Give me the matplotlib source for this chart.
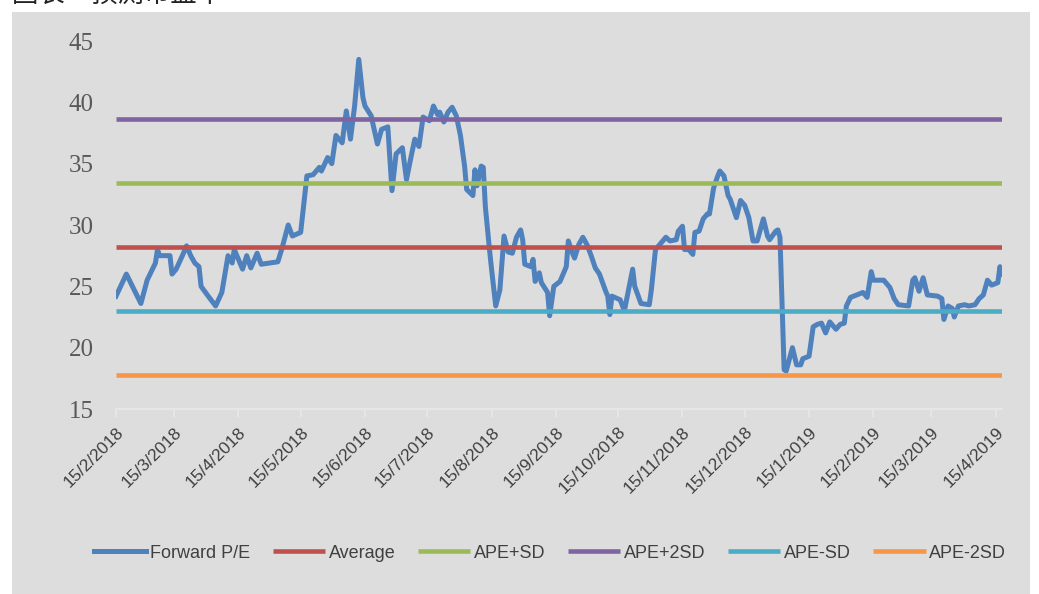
import matplotlib
matplotlib.use("Agg")
import matplotlib.pyplot as plt
import matplotlib.dates as mdates
from matplotlib.patches import Rectangle
import pandas as pd

# Forward P/E
dates = [
    "2018-02-15", "2018-02-20", "2018-02-27", "2018-03-02", "2018-03-06", "2018-03-07",
    "2018-03-08", "2018-03-13", "2018-03-14", "2018-03-16", "2018-03-19", "2018-03-21",
    "2018-03-23", "2018-03-25", "2018-03-27", "2018-03-28", "2018-03-31", "2018-04-04",
    "2018-04-07", "2018-04-10", "2018-04-12", "2018-04-13", "2018-04-17", "2018-04-19",
    "2018-04-21", "2018-04-24", "2018-04-26", "2018-05-04", "2018-05-06", "2018-05-09",
    "2018-05-11", "2018-05-15", "2018-05-18", "2018-05-21", "2018-05-24", "2018-05-25",
    "2018-05-28", "2018-05-30", "2018-06-01", "2018-06-04", "2018-06-06", "2018-06-08",
    "2018-06-10", "2018-06-12", "2018-06-14", "2018-06-15", "2018-06-18", "2018-06-19",
    "2018-06-21", "2018-06-23", "2018-06-26", "2018-06-28", "2018-06-30", "2018-07-03",
    "2018-07-05", "2018-07-07", "2018-07-09", "2018-07-11", "2018-07-13", "2018-07-16",
    "2018-07-18", "2018-07-20", "2018-07-21", "2018-07-23", "2018-07-25", "2018-07-27",
    "2018-07-29", "2018-07-31", "2018-08-02", "2018-08-03", "2018-08-06", "2018-08-07",
    "2018-08-08", "2018-08-10", "2018-08-11", "2018-08-12", "2018-08-14", "2018-08-15",
    "2018-08-17", "2018-08-19", "2018-08-21", "2018-08-23", "2018-08-25", "2018-08-27",
    "2018-08-29", "2018-08-30", "2018-08-31", "2018-09-03", "2018-09-04", "2018-09-05",
    "2018-09-07", "2018-09-08", "2018-09-11", "2018-09-12", "2018-09-14", "2018-09-17",
    "2018-09-20", "2018-09-21", "2018-09-23", "2018-09-24", "2018-09-26", "2018-09-28",
    "2018-09-30", "2018-10-02", "2018-10-04", "2018-10-06", "2018-10-09", "2018-10-10",
    "2018-10-11", "2018-10-12", "2018-10-16", "2018-10-18", "2018-10-22", "2018-10-23",
    "2018-10-26", "2018-10-30", "2018-10-31", "2018-11-02", "2018-11-07", "2018-11-09",
    "2018-11-12", "2018-11-13", "2018-11-15", "2018-11-16", "2018-11-18", "2018-11-20",
    "2018-11-21", "2018-11-23", "2018-11-25", "2018-11-27", "2018-11-28", "2018-11-30",
    "2018-12-02", "2018-12-03", "2018-12-05", "2018-12-07", "2018-12-08", "2018-12-11",
    "2018-12-13", "2018-12-15", "2018-12-17", "2018-12-19", "2018-12-21", "2018-12-24",
    "2018-12-26", "2018-12-27", "2018-12-30", "2018-12-31", "2019-01-01", "2019-01-03",
    "2019-01-04", "2019-01-07", "2019-01-09", "2019-01-11", "2019-01-12", "2019-01-15",
    "2019-01-17", "2019-01-19", "2019-01-21", "2019-01-23", "2019-01-25", "2019-01-28",
    "2019-01-30", "2019-02-01", "2019-02-02", "2019-02-04", "2019-02-07", "2019-02-10",
    "2019-02-12", "2019-02-14", "2019-02-15", "2019-02-20", "2019-02-23", "2019-02-25",
    "2019-02-27", "2019-03-04", "2019-03-06", "2019-03-07", "2019-03-09", "2019-03-11",
    "2019-03-13", "2019-03-18", "2019-03-20", "2019-03-21", "2019-03-23", "2019-03-25",
    "2019-03-26", "2019-03-28", "2019-03-31", "2019-04-02", "2019-04-05", "2019-04-07",
    "2019-04-09", "2019-04-11", "2019-04-13", "2019-04-16", "2019-04-17", "2019-04-18",
]
forward_pe = [
    24.2, 26.0, 23.6, 25.5, 26.9, 28.0,
    27.5, 27.5, 26.0, 26.4, 27.5, 28.3,
    27.5, 26.9, 26.6, 25.0, 24.3, 23.4,
    24.5, 27.5, 26.9, 28.0, 26.4, 27.5,
    26.5, 27.7, 26.8, 27.0, 28.1, 30.0,
    29.1, 29.4, 34.0, 34.1, 34.7, 34.4,
    35.5, 35.0, 37.3, 36.7, 39.3, 37.0,
    39.7, 43.5, 40.4, 39.7, 38.9, 38.1,
    36.6, 37.8, 38.0, 32.8, 35.8, 36.3,
    33.7, 35.4, 37.0, 36.4, 38.8, 38.5,
    39.7, 39.0, 39.2, 38.4, 39.2, 39.6,
    38.9, 37.3, 34.8, 32.9, 32.4, 34.5,
    33.2, 34.8, 34.7, 31.5, 28.0, 26.4,
    23.4, 24.7, 29.1, 27.8, 27.7, 29.0,
    29.6, 28.8, 26.8, 26.6, 27.2, 25.4,
    26.1, 25.3, 24.5, 22.6, 25.0, 25.4,
    26.6, 28.7, 27.7, 27.3, 28.4, 29.0,
    28.4, 27.5, 26.5, 26.0, 24.6, 24.2,
    22.7, 24.2, 23.9, 23.0, 26.4, 25.0,
    23.6, 23.5, 24.7, 28.0, 29.0, 28.7,
    28.8, 29.5, 29.9, 28.0, 28.0, 27.6,
    29.4, 29.5, 30.5, 30.9, 30.9, 33.0,
    34.0, 34.4, 34.0, 32.4, 32.1, 30.6,
    32.0, 31.6, 30.6, 28.7, 28.7, 30.5,
    29.1, 28.8, 29.5, 29.6, 29.0, 18.2,
    18.1, 20.0, 18.6, 18.6, 19.1, 19.3,
    21.7, 21.9, 22.0, 21.2, 22.1, 21.5,
    21.9, 22.0, 23.4, 24.1, 24.3, 24.5,
    24.1, 26.2, 25.5, 25.5, 24.9, 24.0,
    23.5, 23.4, 25.5, 25.7, 24.6, 25.7,
    24.3, 24.2, 24.0, 22.3, 23.4, 23.2,
    22.5, 23.4, 23.5, 23.4, 23.5, 24.0,
    24.3, 25.5, 25.1, 25.3, 26.6, 26.0,
]

band_names = ["Average", "APE+SD", "APE+2SD", "APE-SD", "APE-2SD"]
band_values = [28.2, 33.42, 38.64, 22.98, 17.76]
band_colors = ["#C0504D", "#9BBB59", "#8064A2", "#4BACC6", "#F79646"]

x = pd.to_datetime(dates)

fig = plt.figure(figsize=(10.39, 5.94), dpi=100)
fig.patch.set_facecolor("white")
fig.patches.append(Rectangle((12 / 1039, 0), 1018 / 1039, 582 / 594,
                             transform=fig.transFigure, facecolor="#DDDDDD",
                             edgecolor="none", zorder=-10))

fig.text(12 / 1039, 1 - 8 / 594, "圖表　預測市盈率", fontsize=19,
         family=["Noto Sans CJK TC", "DejaVu Sans"], color="#222222",
         ha="left", va="bottom")

ax = fig.add_axes([116 / 1039, 1 - 409 / 594, 886 / 1039, 368 / 594])
ax.set_facecolor("none")

ax.plot(x, forward_pe, color="#4F81BD", lw=3.6, solid_joinstyle="round",
        label="Forward P/E", zorder=2)
for name, val, col in zip(band_names, band_values, band_colors):
    ax.plot([x[0], x[-1]], [val, val], color=col, lw=3.3, label=name,
            solid_capstyle="butt", zorder=3)

ax.set_xlim(x[0], x[-1])
ax.set_ylim(15, 45)
ax.set_yticks(range(15, 46, 5))

for s in ["top", "right", "left"]:
    ax.spines[s].set_visible(False)
ax.spines["bottom"].set_color("#E8E8E8")
ax.spines["bottom"].set_linewidth(1.2)

ax.xaxis.set_major_locator(mdates.MonthLocator(bymonthday=15))
ax.xaxis.set_major_formatter(plt.FuncFormatter(
    lambda v, p: "{d.day}/{d.month}/{d.year}".format(d=mdates.num2date(v))))
ax.tick_params(axis="x", length=6, color="#E8E8E8", width=1.2, pad=5)
ax.tick_params(axis="y", length=0, pad=16)

for lab in ax.get_yticklabels():
    lab.set_fontfamily("Liberation Serif")
    lab.set_fontsize(18)
    lab.set_color("#595959")
for lab in ax.get_xticklabels():
    lab.set_fontfamily("Liberation Sans")
    lab.set_fontsize(12.5)
    lab.set_color("#404040")
    lab.set_rotation(45)
    lab.set_ha("right")
    lab.set_va("top")
    lab.set_rotation_mode("anchor")

handles, labels = ax.get_legend_handles_labels()
fig.legend(handles, labels, loc="center", bbox_to_anchor=(550 / 1039, 1 - 553 / 594),
           ncol=6, frameon=False, handlelength=2.9, handletextpad=0.2,
           columnspacing=1.25,
           prop={"family": "Liberation Sans", "size": 13},
           labelcolor="#404040")

fig.savefig("out.png", dpi=100)
